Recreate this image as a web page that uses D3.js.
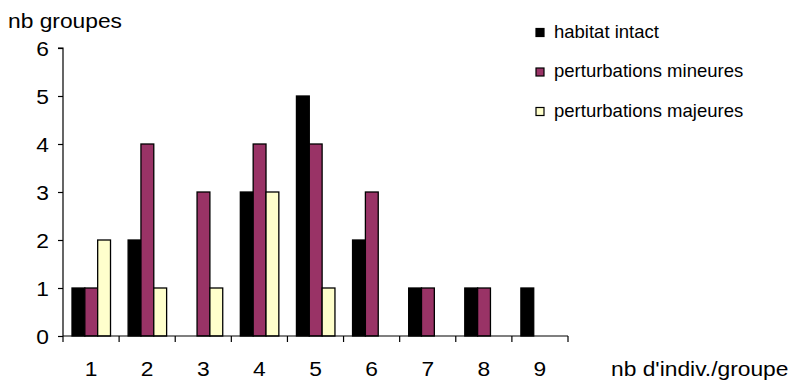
<!DOCTYPE html>
<html>
<head>
<meta charset="utf-8">
<script src="https://cdn.jsdelivr.net/npm/d3@7"></script>
<style>
  html, body { margin: 0; padding: 0; background: #fff; }
  svg { display: block; font-family: Arial, "Liberation Sans", sans-serif; }
</style>
</head>
<body>
<svg id="chart" width="788" height="383"></svg>
<script>
// Group sizes (individuals per group) on the x axis
const categories = ["1", "2", "3", "4", "5", "6", "7", "8", "9"];
const seriesNames = ["habitat intact", "perturbations mineures", "perturbations majeures"];
const habitatIntact = [1, 2, 0, 3, 5, 2, 1, 1, 1];
const perturbationsMineures = [1, 4, 3, 4, 4, 3, 1, 1, 0];
const perturbationsMajeures = [2, 1, 1, 3, 1, 0, 0, 0, 0];
const yTicks = [0, 1, 2, 3, 4, 5, 6];
const seriesColors = ["#000000", "#993366", "#FFFFCC"];

const seriesValues = [habitatIntact, perturbationsMineures, perturbationsMajeures];

// Axis text is drawn slightly wide
const STRETCH = 1.085;

const svg = d3.select("#chart");

const x = d3.scaleBand().domain(categories).range([63, 568]).padding(0);
const xInner = d3.scaleBand().domain(seriesNames).range([9, x.bandwidth() - 8.6]).padding(0);
const y = d3.scaleLinear().domain([0, 6]).range([336, 48]);

// Places a text at (px, py) with a horizontal stretch
function stretchedText(parent, px, py, str, size, anchor) {
  return parent.append("g")
    .attr("transform", `translate(${px},${py}) scale(${STRETCH},1)`)
    .append("text")
    .attr("font-size", size)
    .attr("text-anchor", anchor || "start")
    .attr("fill", "#000")
    .text(str);
}

// Bars
const groups = svg.append("g").selectAll("g")
  .data(categories)
  .join("g")
  .attr("transform", d => `translate(${x(d)},0)`);

groups.selectAll("rect")
  .data((c, i) => seriesNames.map((s, k) => ({ s, k, v: seriesValues[k][i] })).filter(d => d.v > 0))
  .join("rect")
  .attr("x", d => xInner(d.s))
  .attr("y", d => y(d.v))
  .attr("width", xInner.bandwidth())
  .attr("height", d => y(0) - y(d.v))
  .attr("fill", d => seriesColors[d.k])
  .attr("stroke", "#000")
  .attr("stroke-width", 1.3);

// Y axis
const yAxis = svg.append("g")
  .attr("transform", "translate(63,0)")
  .call(d3.axisLeft(y).tickValues(yTicks).tickFormat(d3.format("d")).tickSize(5).tickPadding(9));
yAxis.select(".domain").attr("d", `M-5,${y(6)}H0V${y(0)}`);
yAxis.selectAll("line, path").attr("stroke", "#000").attr("stroke-width", 1.2);
yAxis.selectAll(".tick text").remove();
yAxis.selectAll(".tick").each(function (d) {
  stretchedText(d3.select(this), -14, 7.5, d3.format("d")(d), 21, "end");
});

// X axis: ticks on the category boundaries, labels centred in each band
const xAxisG = svg.append("g").attr("transform", `translate(0,${y(0)})`);
xAxisG.append("line")
  .attr("x1", x.range()[0]).attr("x2", x.range()[1])
  .attr("stroke", "#000").attr("stroke-width", 1.2);
const boundaries = categories.map(c => x(c)).concat([x.range()[1]]);
xAxisG.selectAll("line.tick")
  .data(boundaries)
  .join("line")
  .attr("class", "tick")
  .attr("x1", d => d).attr("x2", d => d)
  .attr("y1", 0).attr("y2", 6)
  .attr("stroke", "#000").attr("stroke-width", 1.2);
categories.forEach(c => {
  stretchedText(xAxisG, x(c) + x.bandwidth() / 2, 40, c, 21, "middle");
});

// Axis titles
stretchedText(svg, 8, 28, "nb groupes", 21);
stretchedText(svg, 611, 376, "nb d'indiv./groupe", 21);

// Legend
const legend = svg.append("g").selectAll("g")
  .data(seriesNames)
  .join("g")
  .attr("transform", (d, i) => `translate(536,${28.5 + i * 39.5})`);
legend.append("rect")
  .attr("width", 8).attr("height", 8)
  .attr("fill", (d, i) => seriesColors[i])
  .attr("stroke", "#000").attr("stroke-width", 1.2);
legend.append("text")
  .attr("x", 18).attr("y", 9)
  .attr("font-size", 18.5)
  .text(d => d);
</script>
</body>
</html>
